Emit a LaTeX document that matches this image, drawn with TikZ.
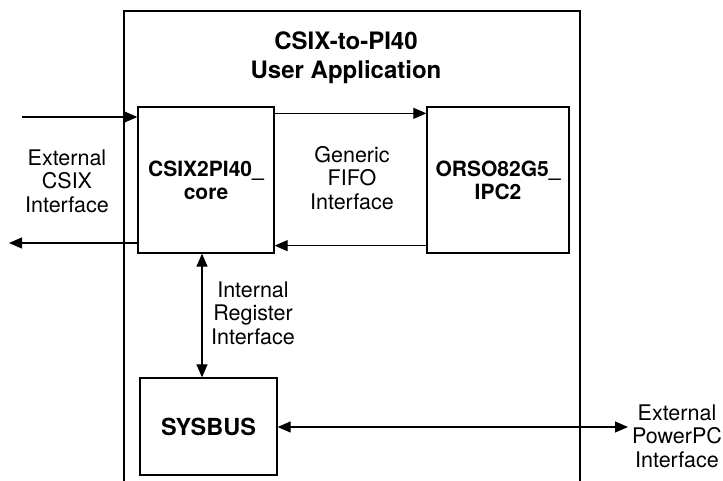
\documentclass[tikz,border=0pt]{standalone}
\usepackage{fontspec}
\setmainfont{TeX Gyre Heros}
\usetikzlibrary{arrows.meta,positioning}

\begin{document}
\begin{tikzpicture}[
            x=1pt, y=-1pt,
            line width=1.1pt,
            block/.style={rectangle, draw, line width=1.3pt, inner sep=0pt, align=center, font=\fontsize{21}{23}\selectfont\bfseries},
            lbl/.style={align=center, font=\fontsize{21.5}{23.5}\selectfont, inner sep=0pt},
            arrow/.style={-{Triangle[length=13pt,width=11pt]}},
            dblarrow/.style={{Triangle[length=13pt,width=11pt]}-{Triangle[length=13pt,width=11pt]}}
        ]
        \useasboundingbox (0,0) rectangle (723,481);

        % Application frame (open at the bottom)
        \draw (124,481) -- (124,11) -- (580,11) -- (580,481);
        \node[align=center, font=\fontsize{24}{29}\selectfont\bfseries, inner sep=0pt] (title) at (346,58) {CSIX-to-PI40\\User Application};

        % Blocks
        \node[block, minimum width=136pt, minimum height=146pt] (core) at (206,180) {CSIX2PI40\_\\core};
        \node[block, minimum width=142pt, minimum height=146pt] (orso) at (498,180) {ORSO82G5\_\\IPC2};
        \node[block, minimum width=137pt, minimum height=97pt, font=\fontsize{23.5}{26}\selectfont\bfseries] (sysbus) at (208.5,426.5) {SYSBUS};

        % Outside ends
        \coordinate (csixin) at (22,117);
        \coordinate (csixout) at (9,243);
        \coordinate (ppc) at (628,427);

        % Arrows
        \draw[arrow] (csixin) -- (csixin -| core.west);
        \draw[arrow] (csixout -| core.west) -- (csixout);
        \draw[arrow] ([yshift=-7pt]core.north east) -- ([yshift=-7pt]orso.north west);
        \draw[arrow] ([yshift=8pt]orso.south west) -- ([yshift=8pt]core.south east);
        \draw[dblarrow] ([xshift=-4pt]core.south) -- ([xshift=-4pt]core.south |- sysbus.north);
        \draw[dblarrow] (sysbus.east |- ppc) -- (ppc);

        % Labels
        \node[lbl] (csixlbl) at (67,181) {External\\CSIX\\Interface};
        \node[lbl] (fifolbl) at (352,178) {Generic\\FIFO\\Interface};
        \node[lbl] (reglbl) at (253,313) {Internal\\Register\\Interface};
        \node[lbl] (ppclbl) at (677,436) {External\\PowerPC\\Interface};

        \end{tikzpicture}
\end{document}
